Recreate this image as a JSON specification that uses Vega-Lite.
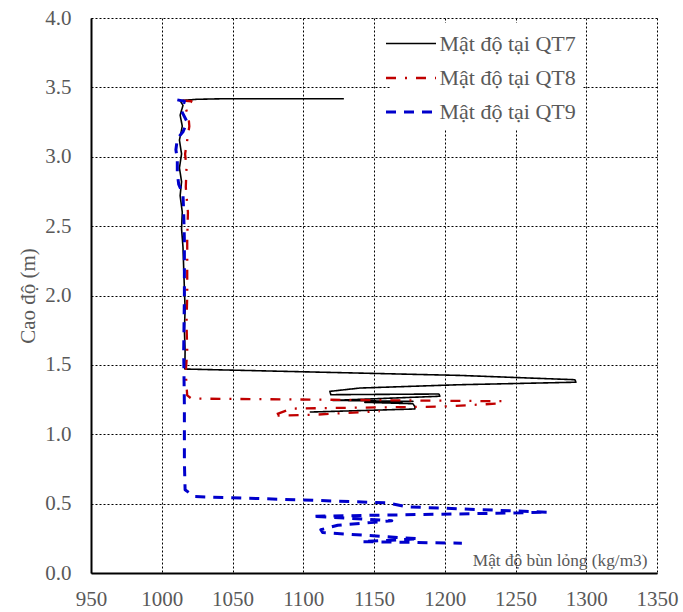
{
  "$schema": "https://vega.github.io/schema/vega-lite/v6.json",
  "width": 566,
  "height": 555,
  "autosize": "none",
  "padding": {"left": 91, "top": 18, "right": 26, "bottom": 39},
  "background": "white",
  "config": {"view": {"stroke": null}, "font": "Liberation Serif"},
  "data": {"values": [
    {"s": "Mật độ tại QT7", "i": 1, "v": 1128.7, "h": 3.418},
    {"s": "Mật độ tại QT7", "i": 2, "v": 1043, "h": 3.418},
    {"s": "Mật độ tại QT7", "i": 3, "v": 1025, "h": 3.414},
    {"s": "Mật độ tại QT7", "i": 4, "v": 1013, "h": 3.405},
    {"s": "Mật độ tại QT7", "i": 5, "v": 1015, "h": 3.37},
    {"s": "Mật độ tại QT7", "i": 6, "v": 1013, "h": 3.30},
    {"s": "Mật độ tại QT7", "i": 7, "v": 1014.5, "h": 3.22},
    {"s": "Mật độ tại QT7", "i": 8, "v": 1012.5, "h": 3.12},
    {"s": "Mật độ tại QT7", "i": 9, "v": 1014, "h": 3.02},
    {"s": "Mật độ tại QT7", "i": 10, "v": 1012.5, "h": 2.92},
    {"s": "Mật độ tại QT7", "i": 11, "v": 1014, "h": 2.82},
    {"s": "Mật độ tại QT7", "i": 12, "v": 1013, "h": 2.72},
    {"s": "Mật độ tại QT7", "i": 13, "v": 1014.5, "h": 2.60},
    {"s": "Mật độ tại QT7", "i": 14, "v": 1014, "h": 2.48},
    {"s": "Mật độ tại QT7", "i": 15, "v": 1015, "h": 2.35},
    {"s": "Mật độ tại QT7", "i": 16, "v": 1015.5, "h": 2.20},
    {"s": "Mật độ tại QT7", "i": 17, "v": 1016, "h": 2.05},
    {"s": "Mật độ tại QT7", "i": 18, "v": 1016.5, "h": 1.90},
    {"s": "Mật độ tại QT7", "i": 19, "v": 1016, "h": 1.75},
    {"s": "Mật độ tại QT7", "i": 20, "v": 1016.5, "h": 1.60},
    {"s": "Mật độ tại QT7", "i": 21, "v": 1016.3, "h": 1.47},
    {"s": "Mật độ tại QT7", "i": 22, "v": 1210.7, "h": 1.424},
    {"s": "Mật độ tại QT7", "i": 23, "v": 1292, "h": 1.393},
    {"s": "Mật độ tại QT7", "i": 24, "v": 1292.7, "h": 1.375},
    {"s": "Mật độ tại QT7", "i": 25, "v": 1210.7, "h": 1.357},
    {"s": "Mật độ tại QT7", "i": 26, "v": 1140, "h": 1.333},
    {"s": "Mật độ tại QT7", "i": 27, "v": 1118.8, "h": 1.309},
    {"s": "Mật độ tại QT7", "i": 28, "v": 1119.5, "h": 1.285},
    {"s": "Mật độ tại QT7", "i": 29, "v": 1195.9, "h": 1.290},
    {"s": "Mật độ tại QT7", "i": 30, "v": 1196.6, "h": 1.274},
    {"s": "Mật độ tại QT7", "i": 31, "v": 1120.9, "h": 1.244},
    {"s": "Mật độ tại QT7", "i": 32, "v": 1177.5, "h": 1.237},
    {"s": "Mật độ tại QT7", "i": 33, "v": 1143.5, "h": 1.230},
    {"s": "Mật độ tại QT7", "i": 34, "v": 1177.5, "h": 1.220},
    {"s": "Mật độ tại QT7", "i": 35, "v": 1178.9, "h": 1.199},
    {"s": "Mật độ tại QT7", "i": 36, "v": 1178.9, "h": 1.182},
    {"s": "Mật độ tại QT7", "i": 37, "v": 1104.6, "h": 1.160},
    {"s": "Mật độ tại QT8", "i": 1, "v": 1015, "h": 3.405},
    {"s": "Mật độ tại QT8", "i": 2, "v": 1021, "h": 3.40},
    {"s": "Mật độ tại QT8", "i": 3, "v": 1017, "h": 3.35},
    {"s": "Mật độ tại QT8", "i": 4, "v": 1019, "h": 3.28},
    {"s": "Mật độ tại QT8", "i": 5, "v": 1019.5, "h": 3.22},
    {"s": "Mật độ tại QT8", "i": 6, "v": 1018, "h": 3.12},
    {"s": "Mật độ tại QT8", "i": 7, "v": 1016.5, "h": 3.02},
    {"s": "Mật độ tại QT8", "i": 8, "v": 1017.5, "h": 2.92},
    {"s": "Mật độ tại QT8", "i": 9, "v": 1017, "h": 2.78},
    {"s": "Mật độ tại QT8", "i": 10, "v": 1018.5, "h": 2.6},
    {"s": "Mật độ tại QT8", "i": 11, "v": 1018, "h": 2.4},
    {"s": "Mật độ tại QT8", "i": 12, "v": 1018, "h": 2.2},
    {"s": "Mật độ tại QT8", "i": 13, "v": 1018, "h": 2.0},
    {"s": "Mật độ tại QT8", "i": 14, "v": 1017.5, "h": 1.8},
    {"s": "Mật độ tại QT8", "i": 15, "v": 1018, "h": 1.6},
    {"s": "Mật độ tại QT8", "i": 16, "v": 1017, "h": 1.45},
    {"s": "Mật độ tại QT8", "i": 17, "v": 1017.5, "h": 1.35},
    {"s": "Mật độ tại QT8", "i": 18, "v": 1018, "h": 1.28},
    {"s": "Mật độ tại QT8", "i": 19, "v": 1021, "h": 1.257},
    {"s": "Mật độ tại QT8", "i": 20, "v": 1241, "h": 1.238},
    {"s": "Mật độ tại QT8", "i": 21, "v": 1237.6, "h": 1.221},
    {"s": "Mật độ tại QT8", "i": 22, "v": 1196.6, "h": 1.199},
    {"s": "Mật độ tại QT8", "i": 23, "v": 1140, "h": 1.192},
    {"s": "Mật độ tại QT8", "i": 24, "v": 1091.9, "h": 1.185},
    {"s": "Mật độ tại QT8", "i": 25, "v": 1078.5, "h": 1.134},
    {"s": "Mật độ tại QT8", "i": 26, "v": 1108.2, "h": 1.141},
    {"s": "Mật độ tại QT8", "i": 27, "v": 1154.1, "h": 1.166},
    {"s": "Mật độ tại QT9", "i": 1, "v": 1011, "h": 3.41},
    {"s": "Mật độ tại QT9", "i": 2, "v": 1016, "h": 3.40},
    {"s": "Mật độ tại QT9", "i": 3, "v": 1014, "h": 3.33},
    {"s": "Mật độ tại QT9", "i": 4, "v": 1018, "h": 3.25},
    {"s": "Mật độ tại QT9", "i": 5, "v": 1015, "h": 3.18},
    {"s": "Mật độ tại QT9", "i": 6, "v": 1011, "h": 3.13},
    {"s": "Mật độ tại QT9", "i": 7, "v": 1010, "h": 3.05},
    {"s": "Mật độ tại QT9", "i": 8, "v": 1011, "h": 2.98},
    {"s": "Mật độ tại QT9", "i": 9, "v": 1011, "h": 2.88},
    {"s": "Mật độ tại QT9", "i": 10, "v": 1012, "h": 2.80},
    {"s": "Mật độ tại QT9", "i": 11, "v": 1015, "h": 2.73},
    {"s": "Mật độ tại QT9", "i": 12, "v": 1015.5, "h": 2.6},
    {"s": "Mật độ tại QT9", "i": 13, "v": 1016, "h": 2.4},
    {"s": "Mật độ tại QT9", "i": 14, "v": 1016, "h": 2.0},
    {"s": "Mật độ tại QT9", "i": 15, "v": 1015.5, "h": 1.6},
    {"s": "Mật độ tại QT9", "i": 16, "v": 1016, "h": 1.2},
    {"s": "Mật độ tại QT9", "i": 17, "v": 1016, "h": 0.8},
    {"s": "Mật độ tại QT9", "i": 18, "v": 1016.5, "h": 0.6},
    {"s": "Mật độ tại QT9", "i": 19, "v": 1023, "h": 0.551},
    {"s": "Mật độ tại QT9", "i": 20, "v": 1095.5, "h": 0.528},
    {"s": "Mật độ tại QT9", "i": 21, "v": 1159, "h": 0.506},
    {"s": "Mật độ tại QT9", "i": 22, "v": 1173, "h": 0.477},
    {"s": "Mật độ tại QT9", "i": 23, "v": 1273, "h": 0.438},
    {"s": "Mật độ tại QT9", "i": 24, "v": 1217.8, "h": 0.427},
    {"s": "Mật độ tại QT9", "i": 25, "v": 1106.1, "h": 0.409},
    {"s": "Mật độ tại QT9", "i": 26, "v": 1162.6, "h": 0.377},
    {"s": "Mật độ tại QT9", "i": 27, "v": 1124.4, "h": 0.344},
    {"s": "Mật độ tại QT9", "i": 28, "v": 1112.4, "h": 0.312},
    {"s": "Mật độ tại QT9", "i": 29, "v": 1113.8, "h": 0.291},
    {"s": "Mật độ tại QT9", "i": 30, "v": 1181.7, "h": 0.247},
    {"s": "Mật độ tại QT9", "i": 31, "v": 1141.4, "h": 0.226},
    {"s": "Mật độ tại QT9", "i": 32, "v": 1212.1, "h": 0.215}
  ]},
  "mark": {"type": "line", "strokeCap": "butt", "strokeJoin": "round", "clip": true},
  "encoding": {
    "x": {"field": "v", "type": "quantitative",
      "scale": {"domain": [950, 1350], "nice": false, "zero": false},
      "axis": {"values": [950, 1000, 1050, 1100, 1150, 1200, 1250, 1300, 1350], "format": "d",
        "title": "Mật độ bùn lỏng (kg/m3)", "titleFont": "Liberation Serif", "titleFontSize": 17.3, "titleFontWeight": "normal", "titleColor": "#595959",
        "titleAnchor": null, "titleAlign": "right", "titleBaseline": "alphabetic", "titleX": 556, "titleY": -8,
        "labelFont": "Liberation Serif", "labelFontSize": 21, "labelColor": "#595959", "labelPadding": 15, "labelFlush": false,
        "ticks": false, "domainColor": "#000000", "domainWidth": 2,
        "grid": true, "gridColor": "#000000", "gridDash": [2, 2], "gridWidth": 1, "gridOpacity": 1}},
    "y": {"field": "h", "type": "quantitative",
      "scale": {"domain": [0, 4], "nice": false, "zero": false},
      "axis": {"values": [0, 0.5, 1, 1.5, 2, 2.5, 3, 3.5, 4], "format": ".1f",
        "title": "Cao độ (m)", "titleFont": "Liberation Serif", "titleFontSize": 21, "titleFontWeight": "normal", "titleColor": "#595959", "titlePadding": 6,
        "labelFont": "Liberation Serif", "labelFontSize": 21, "labelColor": "#595959", "labelPadding": 20, "labelFlush": false,
        "ticks": false, "domainColor": "#000000", "domainWidth": 2,
        "grid": true, "gridColor": "#000000", "gridDash": [2, 2], "gridWidth": 1, "gridOpacity": 1}},
    "order": {"field": "i", "type": "quantitative"},
    "color": {"field": "s", "type": "nominal", "title": null,
      "scale": {"domain": ["Mật độ tại QT7", "Mật độ tại QT8", "Mật độ tại QT9"], "range": ["#000000", "#C00000", "#0000CC"]},
      "legend": {"orient": "none", "legendX": 299, "legendY": 5, "fillColor": "white", "padding": 7,
        "symbolType": "M-2,0H2", "symbolSize": 625, "symbolStrokeWidth": 3, "symbolFillColor": "transparent",
        "labelFont": "Liberation Serif", "labelFontSize": 22, "labelColor": "#595959", "labelOffset": 14.5, "rowPadding": 9, "labelLimit": 300}},
    "strokeDash": {"field": "s", "type": "nominal", "title": null,
      "scale": {"domain": ["Mật độ tại QT7", "Mật độ tại QT8", "Mật độ tại QT9"], "range": [[1, 0], [10, 9, 2, 9], [10, 8]]}},
    "strokeWidth": {"field": "s", "type": "nominal", "title": null,
      "scale": {"domain": ["Mật độ tại QT7", "Mật độ tại QT8", "Mật độ tại QT9"], "range": [1.6, 3, 3]}}
  }
}
